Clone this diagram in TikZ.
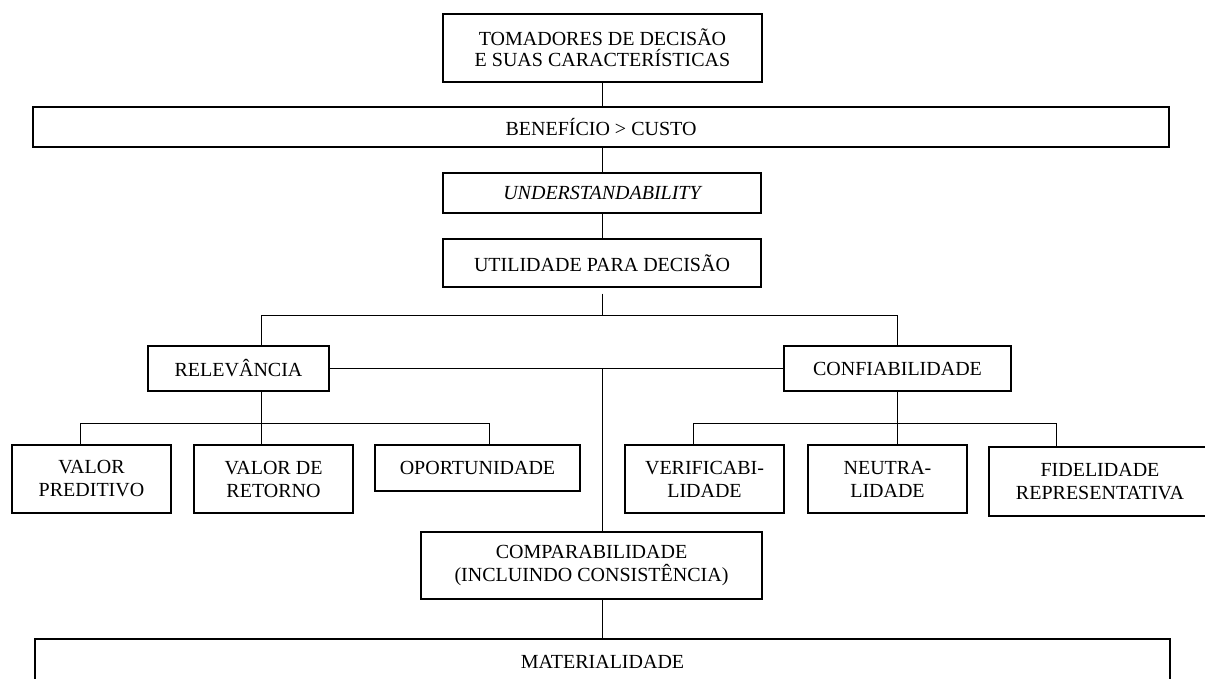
\documentclass[tikz,border=0pt]{standalone}
\usepackage{fontspec}
\setmainfont{Liberation Serif}
\begin{document}
\begin{tikzpicture}[x=1pt,y=-1pt,
  box/.style={draw, line width=1.4pt, inner sep=0pt, align=center,
    font=\fontsize{20}{23}\selectfont},
  conn/.style={line width=1pt}]
\clip (0,0) rectangle (1205,679);
\fill[white] (0,0) rectangle (1205,679);
% nodes
\node[box, minimum width=319pt, minimum height=68pt, font=\fontsize{20}{21}\selectfont] (tom) at (602.5,48) {TOMADORES DE DECISÃO\\E SUAS CARACTERÍSTICAS};
\node[box, minimum width=1136pt, minimum height=40pt] (ben) at (601,127) {BENEFÍCIO > CUSTO};
\node[box, minimum width=318pt, minimum height=40pt] (und) at (602,193) {\itshape UNDERSTANDABILITY};
\node[box, minimum width=318pt, minimum height=48pt] (util) at (602,263) {UTILIDADE PARA DECISÃO};
\node[box, minimum width=181pt, minimum height=45pt] (rel) at (238.5,368.5) {RELEVÂNCIA};
\node[box, minimum width=227pt, minimum height=45pt] (conf) at (897.5,368.5) {CONFIABILIDADE};
\node[box, minimum width=159pt, minimum height=68pt] (vp) at (91.5,479) {VALOR\\PREDITIVO};
\node[box, minimum width=159pt, minimum height=68pt] (vr) at (273.5,479) {VALOR DE\\RETORNO};
\node[box, minimum width=205pt, minimum height=46pt] (op) at (477.5,468) {OPORTUNIDADE};
\node[box, minimum width=159pt, minimum height=68pt] (ver) at (704.5,479) {VERIFICABI-\\LIDADE};
\node[box, minimum width=159pt, minimum height=68pt] (neu) at (887.5,479) {NEUTRA-\\LIDADE};
\node[box, minimum width=222pt, minimum height=69pt] (fid) at (1100,481.5) {FIDELIDADE\\REPRESENTATIVA};
\node[box, minimum width=341pt, minimum height=67pt] (comp) at (591.5,565.5) {COMPARABILIDADE\\(INCLUINDO CONSISTÊNCIA)};
\node[box, minimum width=1135pt, minimum height=46pt] (mat) at (602.5,662) {MATERIALIDADE};
% junction coordinates
\coordinate (j1) at (602,315);
\coordinate (jl) at (261,315);
\coordinate (jr) at (897,315);
\coordinate (mid) at (602,369);
\coordinate (rl) at (80,423);
\coordinate (rr) at (489,423);
\coordinate (cl) at (693,423);
\coordinate (cr) at (1056,423);
% connectors
\draw[conn] (tom.south -| j1) -- (ben.north -| j1);
\draw[conn] (ben.south -| j1) -- (und.north -| j1);
\draw[conn] (und.south -| j1) -- (util.north -| j1);
\draw[conn] ([yshift=-6pt]util.south) -- (j1);
\draw[conn] (rel.north -| jl) -- (jl) -- (jr) -- (conf.north -| jr);
\draw[conn] (rel.east) -- (conf.west);
\draw[conn] (mid) -- (comp.north -| mid);
\draw[conn] (comp.south -| mid) -- (mat.north -| mid);
\draw[conn] (rel.south -| jl) -- (vr.north -| jl);
\draw[conn] (vp.north -| rl) -- (rl) -- (rr) -- (op.north -| rr);
\draw[conn] (conf.south -| jr) -- (neu.north -| jr);
\draw[conn] (ver.north -| cl) -- (cl) -- (cr) -- (fid.north -| cr);
\end{tikzpicture}
\end{document}
